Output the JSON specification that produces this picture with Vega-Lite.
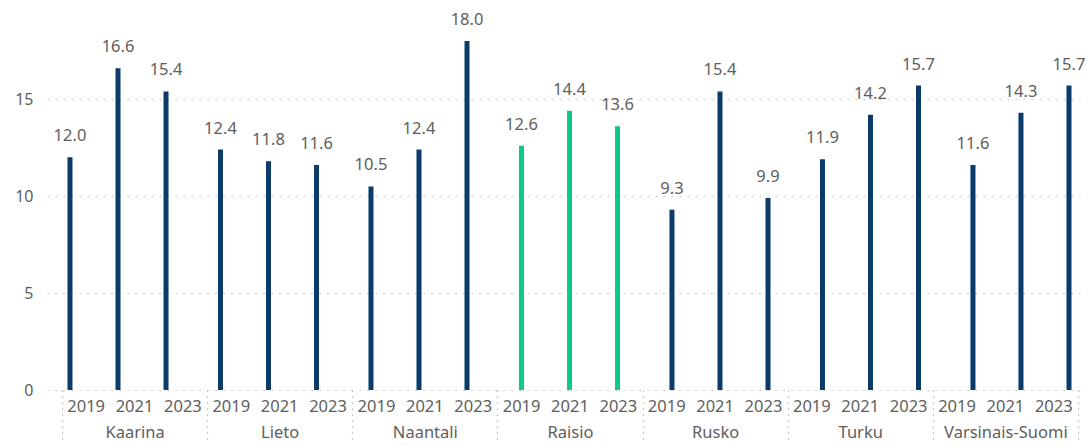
{
  "$schema": "https://vega.github.io/schema/vega-lite/v6.json",
  "autosize": {"type": "none"},
  "width": 1033,
  "height": 380,
  "padding": {"left": 47, "top": 10, "right": 9, "bottom": 56},
  "config": {"font": "Noto Sans", "view": {"stroke": null}},
  "data": {
    "values": [
      {"m": "Kaarina", "year": "2019", "v": 12.0},
      {"m": "Kaarina", "year": "2021", "v": 16.6},
      {"m": "Kaarina", "year": "2023", "v": 15.4},
      {"m": "Lieto", "year": "2019", "v": 12.4},
      {"m": "Lieto", "year": "2021", "v": 11.8},
      {"m": "Lieto", "year": "2023", "v": 11.6},
      {"m": "Naantali", "year": "2019", "v": 10.5},
      {"m": "Naantali", "year": "2021", "v": 12.4},
      {"m": "Naantali", "year": "2023", "v": 18.0},
      {"m": "Raisio", "year": "2019", "v": 12.6},
      {"m": "Raisio", "year": "2021", "v": 14.4},
      {"m": "Raisio", "year": "2023", "v": 13.6},
      {"m": "Rusko", "year": "2019", "v": 9.3},
      {"m": "Rusko", "year": "2021", "v": 15.4},
      {"m": "Rusko", "year": "2023", "v": 9.9},
      {"m": "Turku", "year": "2019", "v": 11.9},
      {"m": "Turku", "year": "2021", "v": 14.2},
      {"m": "Turku", "year": "2023", "v": 15.7},
      {"m": "Varsinais-Suomi", "year": "2019", "v": 11.6},
      {"m": "Varsinais-Suomi", "year": "2021", "v": 14.3},
      {"m": "Varsinais-Suomi", "year": "2023", "v": 15.7}
    ]
  },
  "layer": [
    {
      "encoding": {
        "x": {"field": "m", "type": "nominal", "sort": null, "scale": {"type": "band", "paddingInner": 0.136, "paddingOuter": 0}, "axis": null},
        "xOffset": {"field": "year", "type": "nominal", "scale": {"type": "band", "paddingInner": 0.6, "paddingOuter": 0.154, "align": 0.905}},
        "y": {
          "field": "v", "type": "quantitative",
          "scale": {"domain": [0, 19.6], "nice": false, "zero": true},
          "axis": {"title": null, "values": [0, 5, 10, 15], "domain": false, "ticks": false, "labelPadding": 14, "labelFontSize": 16, "labelColor": "#605E5C", "grid": true, "gridDash": [1.5, 6.5], "gridColor": "#bdbdbd", "gridWidth": 1.2}
        }
      },
      "layer": [
        {
          "mark": {"type": "bar", "size": 5},
          "encoding": {
            "color": {"condition": {"test": "datum.m === 'Raisio'", "value": "#0bc98c"}, "value": "#0b3a6b"}
          }
        },
        {
          "mark": {"type": "text", "baseline": "middle", "dy": -21, "fontSize": 16.5, "color": "#605E5C"},
          "encoding": {"text": {"field": "v", "type": "quantitative", "format": ".1f"}}
        }
      ]
    },
    {
      "mark": {"type": "text", "baseline": "middle", "dy": 17, "fontSize": 16.5, "color": "#605E5C"},
      "encoding": {
        "x": {
          "field": "m", "type": "nominal", "sort": null,
          "scale": {"type": "band", "paddingInner": 0, "paddingOuter": 0.0586, "align": 0.88},
          "axis": {"title": null, "domain": false, "labelPadding": -8, "labelBaseline": "middle", "labelFontSize": 16.5, "labelColor": "#605E5C", "labelLimit": 140, "ticks": true, "tickBand": "extent", "tickSize": 50, "tickDash": [1.5, 4.5], "tickColor": "#bdbdbd", "tickWidth": 1.2, "labelAngle": 0}
        },
        "xOffset": {"field": "year", "type": "nominal", "scale": {"type": "band", "paddingInner": 0, "paddingOuter": 0}},
        "y": {"datum": 0, "type": "quantitative"},
        "text": {"field": "year", "type": "nominal"}
      }
    }
  ],
  "resolve": {"scale": {"x": "independent", "xOffset": "independent"}}
}
